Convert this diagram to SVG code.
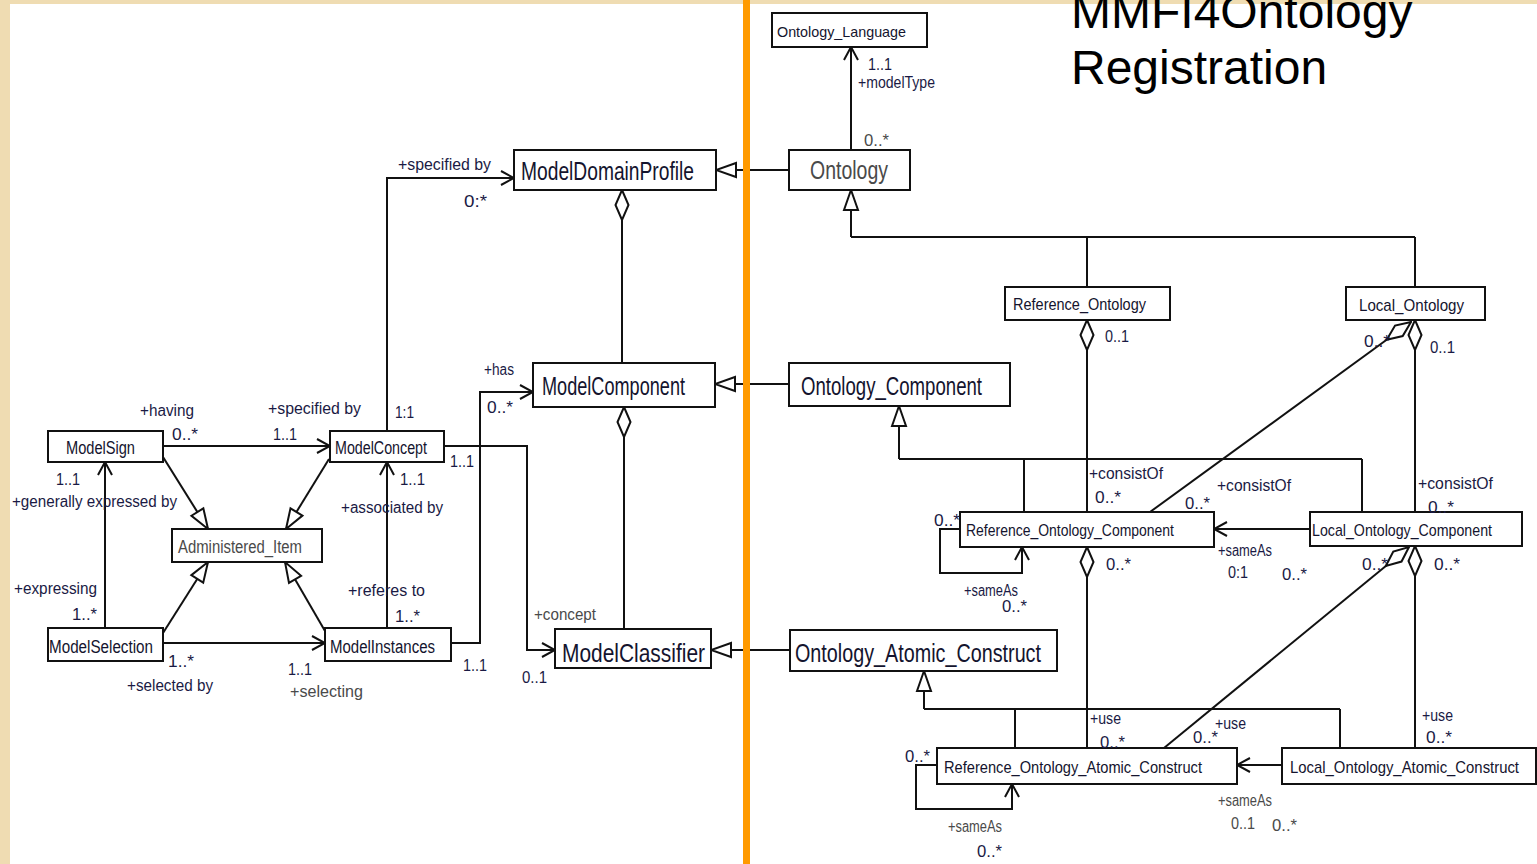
<svg xmlns="http://www.w3.org/2000/svg" width="1537" height="864" viewBox="0 0 1537 864">
  <style>
    .box{fill:#fff;stroke:#111;stroke-width:2}
    .ln{fill:none;stroke:#111;stroke-width:2}
    .nm{font-family:"Liberation Sans",Arial,sans-serif;font-size:18px;fill:#14142e}
    .big{font-size:26px}
    .mid{font-size:17px}
    .lbl{font-family:"Liberation Sans",Arial,sans-serif;font-size:16px;fill:#1a1a44}
    .gr{fill:#4a4a4a}
    .title{font-family:"Liberation Sans",Arial,sans-serif;font-size:48px;fill:#000}
  </style>
  <defs>
    <marker id="open" markerUnits="userSpaceOnUse" viewBox="0 0 16 18" markerWidth="16" markerHeight="18" refX="14" refY="9" orient="auto">
      <path d="M1,2 L14,9 L1,16" fill="none" stroke="#111" stroke-width="2"/>
    </marker>
    <marker id="gen" markerUnits="userSpaceOnUse" viewBox="0 0 24 18" markerWidth="24" markerHeight="18" refX="22" refY="9" orient="auto">
      <path d="M2,2 L22,9 L2,16 Z" fill="#fff" stroke="#111" stroke-width="2"/>
    </marker>
    <marker id="agg" markerUnits="userSpaceOnUse" viewBox="0 0 34 16" markerWidth="34" markerHeight="16" refX="1" refY="8" orient="auto">
      <path d="M1,8 L16,1.5 L31,8 L16,14.5 Z" fill="#fff" stroke="#111" stroke-width="2"/>
    </marker>
  </defs>

  <!-- page background -->
  <rect x="0" y="0" width="1537" height="864" fill="#efdcb2"/>
  <rect x="10" y="4" width="1527" height="860" fill="#fff"/>

  <!-- connectors -->
  <g id="connectors">
    <path class="ln" d="M163,446 H330" marker-end="url(#open)"/>
    <path class="ln" d="M163,457 L208,529" marker-end="url(#gen)"/>
    <path class="ln" d="M329,459 L286,529" marker-end="url(#gen)"/>
    <path class="ln" d="M163,633 L208,562" marker-end="url(#gen)"/>
    <path class="ln" d="M325,631 L285,562" marker-end="url(#gen)"/>
    <path class="ln" d="M105,628 V462" marker-end="url(#open)"/>
    <path class="ln" d="M163,643 H325" marker-end="url(#open)"/>
    <path class="ln" d="M387,628 V462" marker-end="url(#open)"/>
    <path class="ln" d="M387,431 V178 H514" marker-end="url(#open)"/>
    <path class="ln" d="M444,446 H527 V650 H555" marker-end="url(#open)"/>
    <path class="ln" d="M451,643 H480 V392 H533" marker-end="url(#open)"/>
    <path class="ln" d="M622,190 V363" marker-start="url(#agg)"/>
    <path class="ln" d="M624,407 V629" marker-start="url(#agg)"/>
    <path class="ln" d="M789,170 H716" marker-end="url(#gen)"/>
    <path class="ln" d="M789,384 H715" marker-end="url(#gen)"/>
    <path class="ln" d="M790,650 H711" marker-end="url(#gen)"/>

    <path class="ln" d="M851,150 V47" marker-end="url(#open)"/>
    <path class="ln" d="M851,237 H1415 M1087,237 V287 M1415,237 V287"/>
    <path class="ln" d="M851,237 V190" marker-end="url(#gen)"/>
    <path class="ln" d="M1087,320 V512" marker-start="url(#agg)"/>
    <path class="ln" d="M1415,320 V512" marker-start="url(#agg)"/>
    <path class="ln" d="M1411,322 L1150,512" marker-start="url(#agg)"/>

    <path class="ln" d="M899,459 H1362 M1024,459 V512 M1362,459 V512"/>
    <path class="ln" d="M899,459 V406" marker-end="url(#gen)"/>
    <path class="ln" d="M1310,529 H1214" marker-end="url(#open)"/>
    <path class="ln" d="M960,529 H940 V573 H1022 V547" marker-end="url(#open)"/>
    <path class="ln" d="M1087,547 V748" marker-start="url(#agg)"/>
    <path class="ln" d="M1415,546 V748" marker-start="url(#agg)"/>
    <path class="ln" d="M1409,547 L1164,748" marker-start="url(#agg)"/>

    <path class="ln" d="M924,709 H1340 M1015,709 V748 M1340,709 V748"/>
    <path class="ln" d="M924,709 V671" marker-end="url(#gen)"/>
    <path class="ln" d="M1282,765 H1237" marker-end="url(#open)"/>
    <path class="ln" d="M937,765 H916 V809 H1012 V784" marker-end="url(#open)"/>
  </g>

  <!-- divider between the two halves -->
  <rect x="743" y="0" width="7" height="864" fill="#ff9a00"/>

  <!-- model side -->
  <g id="n-modelsign"><rect class="box" x="48" y="431" width="115" height="31"/><text class="nm" x="66" y="454" textLength="69" lengthAdjust="spacingAndGlyphs">ModelSign</text></g>
  <g id="n-modelconcept"><rect class="box" x="330" y="431" width="114" height="31"/><text class="nm" x="335" y="454" textLength="92" lengthAdjust="spacingAndGlyphs">ModelConcept</text></g>
  <g id="n-administered"><rect class="box" x="172" y="529" width="150" height="33"/><text class="nm gr" x="178" y="553" textLength="124" lengthAdjust="spacingAndGlyphs">Administered_Item</text></g>
  <g id="n-modelselection"><rect class="box" x="48" y="628" width="115" height="33"/><text class="nm" x="49" y="653" textLength="104" lengthAdjust="spacingAndGlyphs">ModelSelection</text></g>
  <g id="n-modelinstances"><rect class="box" x="325" y="628" width="126" height="33"/><text class="nm" x="330" y="653" textLength="105" lengthAdjust="spacingAndGlyphs">ModelInstances</text></g>
  <g id="n-modeldomainprofile"><rect class="box" x="514" y="150" width="202" height="40"/><text class="nm big" x="521" y="180" textLength="173" lengthAdjust="spacingAndGlyphs">ModelDomainProfile</text></g>
  <g id="n-modelcomponent"><rect class="box" x="533" y="363" width="182" height="44"/><text class="nm big" x="542" y="395" textLength="143" lengthAdjust="spacingAndGlyphs">ModelComponent</text></g>
  <g id="n-modelclassifier"><rect class="box" x="555" y="629" width="156" height="39"/><text class="nm big" x="562" y="662" textLength="143" lengthAdjust="spacingAndGlyphs">ModelClassifier</text></g>

  <!-- ontology side -->
  <g id="n-ontology-language"><rect class="box" x="772" y="13" width="155" height="34"/><text class="nm" style="font-size:15px" x="777" y="37" textLength="129" lengthAdjust="spacingAndGlyphs">Ontology_Language</text></g>
  <g id="n-ontology"><rect class="box" x="789" y="150" width="121" height="40"/><text class="nm big gr" x="810" y="179" textLength="78" lengthAdjust="spacingAndGlyphs">Ontology</text></g>
  <g id="n-ontology-component"><rect class="box" x="789" y="363" width="221" height="43"/><text class="nm big" x="801" y="395" textLength="181" lengthAdjust="spacingAndGlyphs">Ontology_Component</text></g>
  <g id="n-ontology-atomic"><rect class="box" x="790" y="630" width="267" height="41"/><text class="nm big" x="795" y="662" textLength="246" lengthAdjust="spacingAndGlyphs">Ontology_Atomic_Construct</text></g>
  <g id="n-reference-ontology"><rect class="box" x="1005" y="287" width="165" height="33"/><text class="nm mid" x="1013" y="310" textLength="133" lengthAdjust="spacingAndGlyphs">Reference_Ontology</text></g>
  <g id="n-local-ontology"><rect class="box" x="1346" y="287" width="139" height="33"/><text class="nm mid" x="1359" y="311" textLength="105" lengthAdjust="spacingAndGlyphs">Local_Ontology</text></g>
  <g id="n-ref-onto-component"><rect class="box" x="960" y="512" width="254" height="35"/><text class="nm mid" x="966" y="536" textLength="208" lengthAdjust="spacingAndGlyphs">Reference_Ontology_Component</text></g>
  <g id="n-local-onto-component"><rect class="box" x="1310" y="512" width="212" height="34"/><text class="nm mid" x="1312" y="536" textLength="180" lengthAdjust="spacingAndGlyphs">Local_Ontology_Component</text></g>
  <g id="n-ref-onto-atomic"><rect class="box" x="937" y="748" width="300" height="36"/><text class="nm mid" x="944" y="773" textLength="258" lengthAdjust="spacingAndGlyphs">Reference_Ontology_Atomic_Construct</text></g>
  <g id="n-local-onto-atomic"><rect class="box" x="1282" y="748" width="254" height="36"/><text class="nm mid" x="1290" y="773" textLength="229" lengthAdjust="spacingAndGlyphs">Local_Ontology_Atomic_Construct</text></g>

  <!-- association end labels -->
  <g id="labels">
    <text class="lbl" x="140" y="416" textLength="54" lengthAdjust="spacingAndGlyphs">+having</text>
    <text class="lbl" x="172" y="440" textLength="26" lengthAdjust="spacingAndGlyphs">0..*</text>
    <text class="lbl" x="268" y="414" textLength="93" lengthAdjust="spacingAndGlyphs">+specified by</text>
    <text class="lbl" x="273" y="440" textLength="24" lengthAdjust="spacingAndGlyphs">1..1</text>
    <text class="lbl" x="395" y="418" textLength="19" lengthAdjust="spacingAndGlyphs">1:1</text>
    <text class="lbl" x="56" y="485" textLength="24" lengthAdjust="spacingAndGlyphs">1..1</text>
    <text class="lbl" x="12" y="507" textLength="165" lengthAdjust="spacingAndGlyphs">+generally expressed by</text>
    <text class="lbl" x="400" y="485" textLength="25" lengthAdjust="spacingAndGlyphs">1..1</text>
    <text class="lbl" x="341" y="513" textLength="102" lengthAdjust="spacingAndGlyphs">+associated by</text>
    <text class="lbl" x="450" y="467" textLength="24" lengthAdjust="spacingAndGlyphs">1..1</text>
    <text class="lbl" x="14" y="594" textLength="83" lengthAdjust="spacingAndGlyphs">+expressing</text>
    <text class="lbl" x="72" y="620" textLength="25" lengthAdjust="spacingAndGlyphs">1..*</text>
    <text class="lbl" x="348" y="596" textLength="77" lengthAdjust="spacingAndGlyphs">+referes to</text>
    <text class="lbl" x="395" y="622" textLength="25" lengthAdjust="spacingAndGlyphs">1..*</text>
    <text class="lbl" x="168" y="667" textLength="26" lengthAdjust="spacingAndGlyphs">1..*</text>
    <text class="lbl" x="127" y="691" textLength="86" lengthAdjust="spacingAndGlyphs">+selected by</text>
    <text class="lbl" x="288" y="675" textLength="24" lengthAdjust="spacingAndGlyphs">1..1</text>
    <text class="lbl gr" x="290" y="697" textLength="73" lengthAdjust="spacingAndGlyphs">+selecting</text>
    <text class="lbl" x="463" y="671" textLength="24" lengthAdjust="spacingAndGlyphs">1..1</text>
    <text class="lbl gr" x="534" y="620" textLength="62" lengthAdjust="spacingAndGlyphs">+concept</text>
    <text class="lbl" x="522" y="683" textLength="25" lengthAdjust="spacingAndGlyphs">0..1</text>
    <text class="lbl" x="484" y="375" textLength="30" lengthAdjust="spacingAndGlyphs">+has</text>
    <text class="lbl" x="487" y="413" textLength="26" lengthAdjust="spacingAndGlyphs">0..*</text>
    <text class="lbl" x="398" y="170" textLength="93" lengthAdjust="spacingAndGlyphs">+specified by</text>
    <text class="lbl" x="464" y="207" textLength="23" lengthAdjust="spacingAndGlyphs">0:*</text>

    <text class="lbl" x="868" y="70" textLength="24" lengthAdjust="spacingAndGlyphs">1..1</text>
    <text class="lbl" x="858" y="88" textLength="77" lengthAdjust="spacingAndGlyphs">+modelType</text>
    <text class="lbl gr" x="864" y="146" textLength="25" lengthAdjust="spacingAndGlyphs">0..*</text>
    <text class="lbl" x="1105" y="342" textLength="24" lengthAdjust="spacingAndGlyphs">0..1</text>
    <text class="lbl" x="1364" y="347" textLength="26" lengthAdjust="spacingAndGlyphs">0..*</text>
    <text class="lbl" x="1430" y="353" textLength="25" lengthAdjust="spacingAndGlyphs">0..1</text>
    <text class="lbl" x="1089" y="479" textLength="74" lengthAdjust="spacingAndGlyphs">+consistOf</text>
    <text class="lbl" x="1095" y="503" textLength="26" lengthAdjust="spacingAndGlyphs">0..*</text>
    <text class="lbl" x="1217" y="491" textLength="74" lengthAdjust="spacingAndGlyphs">+consistOf</text>
    <text class="lbl" x="1185" y="509" textLength="25" lengthAdjust="spacingAndGlyphs">0..*</text>
    <text class="lbl" x="1418" y="489" textLength="75" lengthAdjust="spacingAndGlyphs">+consistOf</text>
    <text class="lbl" x="1428" y="513" textLength="26" lengthAdjust="spacingAndGlyphs">0..*</text>
    <text class="lbl" x="934" y="526" textLength="26" lengthAdjust="spacingAndGlyphs">0..*</text>
    <text class="lbl" x="1218" y="556" textLength="54" lengthAdjust="spacingAndGlyphs">+sameAs</text>
    <text class="lbl" x="1228" y="578" textLength="20" lengthAdjust="spacingAndGlyphs">0:1</text>
    <text class="lbl" x="1282" y="580" textLength="25" lengthAdjust="spacingAndGlyphs">0..*</text>
    <text class="lbl" x="1106" y="570" textLength="25" lengthAdjust="spacingAndGlyphs">0..*</text>
    <text class="lbl" x="1362" y="570" textLength="26" lengthAdjust="spacingAndGlyphs">0..*</text>
    <text class="lbl" x="1434" y="570" textLength="26" lengthAdjust="spacingAndGlyphs">0..*</text>
    <text class="lbl" x="964" y="596" textLength="54" lengthAdjust="spacingAndGlyphs">+sameAs</text>
    <text class="lbl" x="1002" y="612" textLength="25" lengthAdjust="spacingAndGlyphs">0..*</text>
    <text class="lbl" x="1090" y="724" textLength="31" lengthAdjust="spacingAndGlyphs">+use</text>
    <text class="lbl" x="1100" y="748" textLength="25" lengthAdjust="spacingAndGlyphs">0..*</text>
    <text class="lbl" x="1215" y="729" textLength="31" lengthAdjust="spacingAndGlyphs">+use</text>
    <text class="lbl" x="1193" y="743" textLength="25" lengthAdjust="spacingAndGlyphs">0..*</text>
    <text class="lbl" x="1422" y="721" textLength="31" lengthAdjust="spacingAndGlyphs">+use</text>
    <text class="lbl" x="1426" y="743" textLength="26" lengthAdjust="spacingAndGlyphs">0..*</text>
    <text class="lbl" x="905" y="762" textLength="25" lengthAdjust="spacingAndGlyphs">0..*</text>
    <text class="lbl gr" x="1218" y="806" textLength="54" lengthAdjust="spacingAndGlyphs">+sameAs</text>
    <text class="lbl gr" x="1231" y="829" textLength="24" lengthAdjust="spacingAndGlyphs">0..1</text>
    <text class="lbl gr" x="1272" y="831" textLength="25" lengthAdjust="spacingAndGlyphs">0..*</text>
    <text class="lbl gr" x="948" y="832" textLength="54" lengthAdjust="spacingAndGlyphs">+sameAs</text>
    <text class="lbl" x="977" y="857" textLength="25" lengthAdjust="spacingAndGlyphs">0..*</text>
  </g>

  <!-- heading -->
  <g id="title">
    <text class="title" x="1071" y="28">MMFI4Ontology</text>
    <text class="title" x="1071" y="84">Registration</text>
  </g>
</svg>
